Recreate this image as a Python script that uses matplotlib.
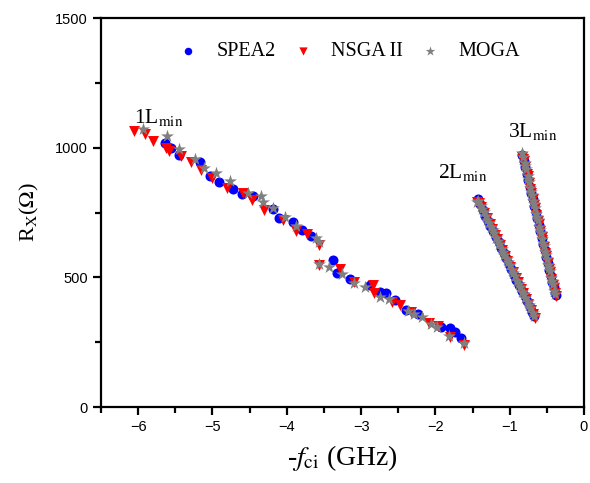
import matplotlib
matplotlib.use("Agg")
from matplotlib import pyplot as plt
from matplotlib.ticker import MultipleLocator

# SPEA2 points (x = -f_ci in GHz, y = R_X in ohm)
spea2_x = [-5.64, -5.56, -5.45, -5.17, -5.03, -4.91, -4.72, -4.60, -4.46, -4.19, -4.10,
           -3.91, -3.80, -3.68, -3.38, -3.32, -3.15, -2.88, -2.74, -2.66, -2.54, -2.39,
           -2.23, -1.93, -1.80, -1.73, -1.65,
           -1.43, -1.40, -1.36, -1.33, -1.29, -1.26, -1.22, -1.19, -1.15, -1.12, -1.08,
           -1.05, -1.01, -0.98, -0.94, -0.91, -0.87, -0.84, -0.80, -0.77, -0.73, -0.70,
           -0.67,
           -0.83, -0.81, -0.79, -0.77, -0.75, -0.73, -0.71, -0.69, -0.67, -0.65, -0.63,
           -0.61, -0.59, -0.57, -0.55, -0.53, -0.51, -0.49, -0.47, -0.45, -0.43, -0.41,
           -0.39, -0.38]
spea2_y = [1019, 997, 972, 944, 892, 869, 841, 821, 814, 762, 728,
           712, 682, 659, 567, 516, 492, 470, 444, 438, 412, 374,
           358, 307, 303, 290, 267,
           801, 784, 759, 738, 719, 698, 677, 656, 636, 615, 594,
           574, 553, 532, 511, 491, 470, 449, 430, 408, 387, 366,
           352,
           970, 948, 924, 899, 875, 850, 826, 801, 776, 752, 727,
           703, 678, 653, 629, 604, 580, 555, 530, 506, 481, 462,
           440, 433]

# NSGA II points
nsga_x = [-6.05, -5.91, -5.80, -5.63, -5.58, -5.42, -5.29, -5.15, -5.01, -4.80, -4.59,
          -4.47, -4.31, -4.05, -3.87, -3.73, -3.56, -3.56, -3.29, -3.10, -2.84, -2.83,
          -2.59, -2.47, -2.33, -2.09, -1.97, -1.80, -1.62,
          -1.44, -1.41, -1.38, -1.34, -1.31, -1.27, -1.24, -1.20, -1.17, -1.13, -1.10,
          -1.06, -1.03, -0.99, -0.96, -0.92, -0.89, -0.85, -0.82, -0.78, -0.75, -0.71,
          -0.68, -0.66,
          -0.84, -0.82, -0.81, -0.79, -0.77, -0.76, -0.74, -0.72, -0.71, -0.69, -0.67,
          -0.66, -0.64, -0.62, -0.61, -0.59, -0.57, -0.56, -0.54, -0.52, -0.51, -0.49,
          -0.47, -0.46, -0.44, -0.42, -0.41, -0.39, -0.38]
nsga_y = [1066, 1051, 1026, 1000, 988, 968, 946, 914, 885, 846, 824,
          798, 760, 721, 680, 666, 625, 548, 531, 483, 470, 438,
          406, 393, 367, 323, 312, 271, 239,
          790, 788, 770, 747, 729, 705, 688, 664, 646, 623, 605,
          581, 564, 540, 522, 499, 481, 457, 439, 416, 398, 374,
          357, 345,
          963, 955, 950, 926, 900, 889, 864, 840, 827, 803, 778,
          766, 741, 717, 704, 680, 655, 643, 618, 594, 581, 557,
          532, 520, 495, 471, 458, 440, 430]

# MOGA points
moga_x = [-5.93, -5.61, -5.45, -5.24, -5.12, -4.95, -4.77, -4.52, -4.35, -4.32, -4.19,
          -4.03, -3.88, -3.60, -3.56, -3.56, -3.43, -3.26, -3.09, -2.95, -2.74, -2.63,
          -2.37, -2.29, -2.18, -2.06, -1.98, -1.81, -1.62,
          -1.44, -1.42, -1.39, -1.37, -1.35, -1.32, -1.30, -1.28, -1.25, -1.23, -1.21,
          -1.18, -1.16, -1.14, -1.11, -1.09, -1.07, -1.04, -1.02, -1.00, -0.97, -0.95,
          -0.93, -0.90, -0.88, -0.86, -0.83, -0.81, -0.79, -0.76, -0.74, -0.72, -0.69,
          -0.67,
          -0.83, -0.82, -0.80, -0.79, -0.78, -0.76, -0.75, -0.74, -0.72, -0.71, -0.70,
          -0.68, -0.67, -0.66, -0.64, -0.63, -0.62, -0.60, -0.59, -0.58, -0.56, -0.55,
          -0.54, -0.52, -0.51, -0.50, -0.48, -0.47, -0.46, -0.44, -0.43, -0.42, -0.40,
          -0.39]
moga_y = [1071, 1045, 994, 955, 923, 901, 871, 826, 815, 792, 766,
          734, 699, 650, 637, 551, 539, 513, 479, 461, 425, 416,
          370, 358, 348, 320, 307, 274, 246,
          790, 794, 776, 765, 753, 735, 723, 711, 694, 682, 670,
          652, 640, 629, 611, 599, 587, 570, 558, 546, 528, 516,
          505, 487, 475, 463, 445, 434, 422, 404, 392, 380, 363,
          351,
          978, 966, 941, 929, 917, 892, 880, 867, 843, 831, 818,
          794, 781, 769, 744, 732, 720, 695, 683, 671, 646, 634,
          622, 597, 585, 572, 548, 536, 523, 499, 486, 474, 449,
          437]

labels = ["SPEA2", "NSGA II", "MOGA"]

plt.rcParams["mathtext.fontset"] = "stix"
serif = "Liberation Serif"
sans = "Liberation Sans"

fig = plt.figure(figsize=(5.9, 4.83), dpi=100)
ax = fig.add_axes([0.1712, 0.1573, 0.8186, 0.8054])

ax.scatter(spea2_x, spea2_y, s=52, marker="o", color="#0000ff", linewidths=0, label=labels[0])
ax.scatter(nsga_x, nsga_y, s=62, marker="v", color="#ff0000", linewidths=0, label=labels[1])
ax.scatter(moga_x, moga_y, s=95, marker="*", color="#808080", linewidths=0, label=labels[2])

ax.set_xlim(-6.5, 0)
ax.set_ylim(0, 1500)
ax.xaxis.set_major_locator(MultipleLocator(1))
ax.xaxis.set_minor_locator(MultipleLocator(0.5))
ax.yaxis.set_major_locator(MultipleLocator(500))
ax.yaxis.set_minor_locator(MultipleLocator(250))

for sp in ax.spines.values():
    sp.set_linewidth(1.6)
ax.tick_params(which="major", direction="out", length=6, width=1.6, labelsize=10.5)
ax.tick_params(which="minor", direction="out", length=4, width=1.6)
for lab in ax.get_xticklabels() + ax.get_yticklabels():
    lab.set_fontfamily(sans)

ax.set_xlabel(r"-$\mathit{f}_{\rm ci}$ (GHz)", fontsize=20, family=serif, labelpad=6)
ax.set_ylabel(r"R$_{\rm X}$($\Omega$)", fontsize=16, family=serif, labelpad=10)

ax.text(-6.06, 1095, r"1L$_{\rm min}$", fontsize=15.5, family=serif)
ax.text(-1.96, 883, r"2L$_{\rm min}$", fontsize=15.5, family=serif)
ax.text(-1.02, 1041, r"3L$_{\rm min}$", fontsize=15.5, family=serif)

ax.legend(loc="upper center", bbox_to_anchor=(0.513, 0.985), ncol=3, frameon=False,
          prop={"family": serif, "size": 14.5}, handlelength=1.0, handletextpad=0.9,
          columnspacing=0.85, scatterpoints=1, markerscale=0.75)

fig.savefig("out.png", dpi=100)
